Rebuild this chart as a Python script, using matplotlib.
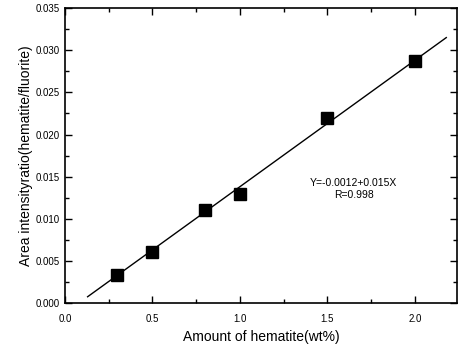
import matplotlib
matplotlib.use('Agg')
import matplotlib.pyplot as plt
import numpy as np

plt.rcParams['font.family'] = ['Liberation Sans', 'DejaVu Sans']

# hematite amount (wt%) and measured intensity ratio
amount = [0.3, 0.5, 0.8, 1.0, 1.5, 2.0]
ratio = [0.0033, 0.0061, 0.0111, 0.0130, 0.0220, 0.0287]

# fitted line Y = -0.0012 + 0.015X
intercept = -0.0012
slope = 0.015
fit_x = np.array([0.13, 2.18])

fig = plt.figure(figsize=(4.6, 3.52), dpi=100)
ax = fig.add_axes([0.141, 0.139, 0.852, 0.838])

ax.plot(fit_x, intercept + slope * fit_x, color='black', linewidth=1.0)
ax.plot(amount, ratio, linestyle='none', marker='s', markersize=8, color='black')

ax.set_xlim(0, 2.24)
ax.set_ylim(0, 0.035)
ax.set_xticks([0.0, 0.5, 1.0, 1.5, 2.0])
ax.set_xticks([0.25, 0.75, 1.25, 1.75], minor=True)
ax.set_yticks(np.arange(0, 0.0351, 0.005))
ax.set_yticks(np.arange(0.0025, 0.035, 0.005), minor=True)
ax.set_xticklabels(['0.0', '0.5', '1.0', '1.5', '2.0'])
ax.set_yticklabels(['%.3f' % v for v in np.arange(0, 0.0351, 0.005)])

ax.tick_params(which='both', direction='in', top=True, right=True, labelsize=7, width=1.0)
ax.tick_params(which='major', length=5)
ax.tick_params(which='minor', length=3)
ax.tick_params(axis='x', pad=8)
for s in ax.spines.values():
    s.set_linewidth(1.2)

ax.set_xlabel('Amount of hematite(wt%)', fontsize=10, labelpad=4)
ax.set_ylabel('Area intensityratio(hematite/fluorite)', fontsize=10, labelpad=2)

ax.text(1.65, 0.0135, 'Y=-0.0012+0.015X\nR=0.998', fontsize=7.5, ha='center', va='center', linespacing=1.3)

fig.savefig('out.png', dpi=100)
